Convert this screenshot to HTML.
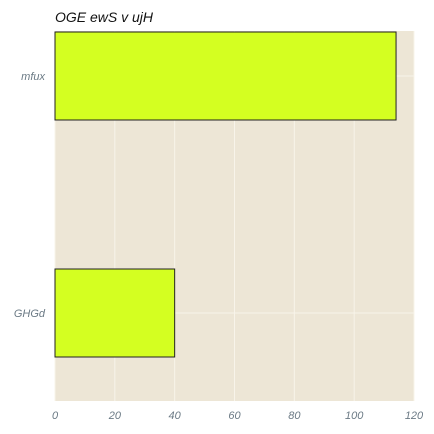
<!DOCTYPE html>
<html><head><meta charset="utf-8"><style>
body{margin:0;background:#fff;}
svg{display:block;font-family:"Liberation Sans",sans-serif;}
.tk{font-size:11px;font-style:italic;fill:#6b7a85;}
</style></head><body>
<svg id="chart" width="434" height="434">
<text x="55" y="22" style="font-size:14px;font-style:italic" fill="#111">OGE ewS v ujH</text>
<rect x="55" y="31" width="359" height="370" fill="#ede6d6"/>
<g id="grid"></g><g id="bars"></g><g id="xticks"></g><g id="ylabels"></g>
</svg>
<script>
const categories = ["mfux", "GHGd"];
const values = [114, 40];
const xTicks = [0, 20, 40, 60, 80, 100, 120];
const ns = "http://www.w3.org/2000/svg";
const x0 = 55, x1 = 414, xMax = 120;
function xs(v){ return x0 + (v / xMax) * (x1 - x0); }
function yc(i){ return 76 + i * 237; }
const barH = 88;
function mk(tag, attrs, parent){ const e = document.createElementNS(ns, tag); for (const k in attrs) e.setAttribute(k, attrs[k]); document.getElementById(parent).appendChild(e); return e; }
xTicks.forEach(t => {
  const l = mk("line", {x1: xs(t), x2: xs(t), y1: 31, y2: 401, stroke: "#f8f4ea", "stroke-width": 1}, "grid");
  
  
  const tx = mk("text", {x: xs(t), y: 419, "class": "tk", "text-anchor": "middle"}, "xticks");
  tx.textContent = t;
  
  
});
categories.forEach((c, i) => {
  const g = mk("line", {x1: x0, x2: x1, y1: yc(i), y2: yc(i), stroke: "#f8f4ea", "stroke-width": 1}, "grid");
  
  
  const r = mk("rect", {x: x0, y: yc(i) - barH / 2, width: xs(values[i]) - x0, height: barH, fill: "#d4ff21", stroke: "#222", "stroke-width": 1}, "bars");
  
  
  const t = mk("text", {x: 45, y: yc(i) + 4, "class": "tk", "text-anchor": "end"}, "ylabels");
  t.textContent = c;
  
  
});
</script>
</body></html>
